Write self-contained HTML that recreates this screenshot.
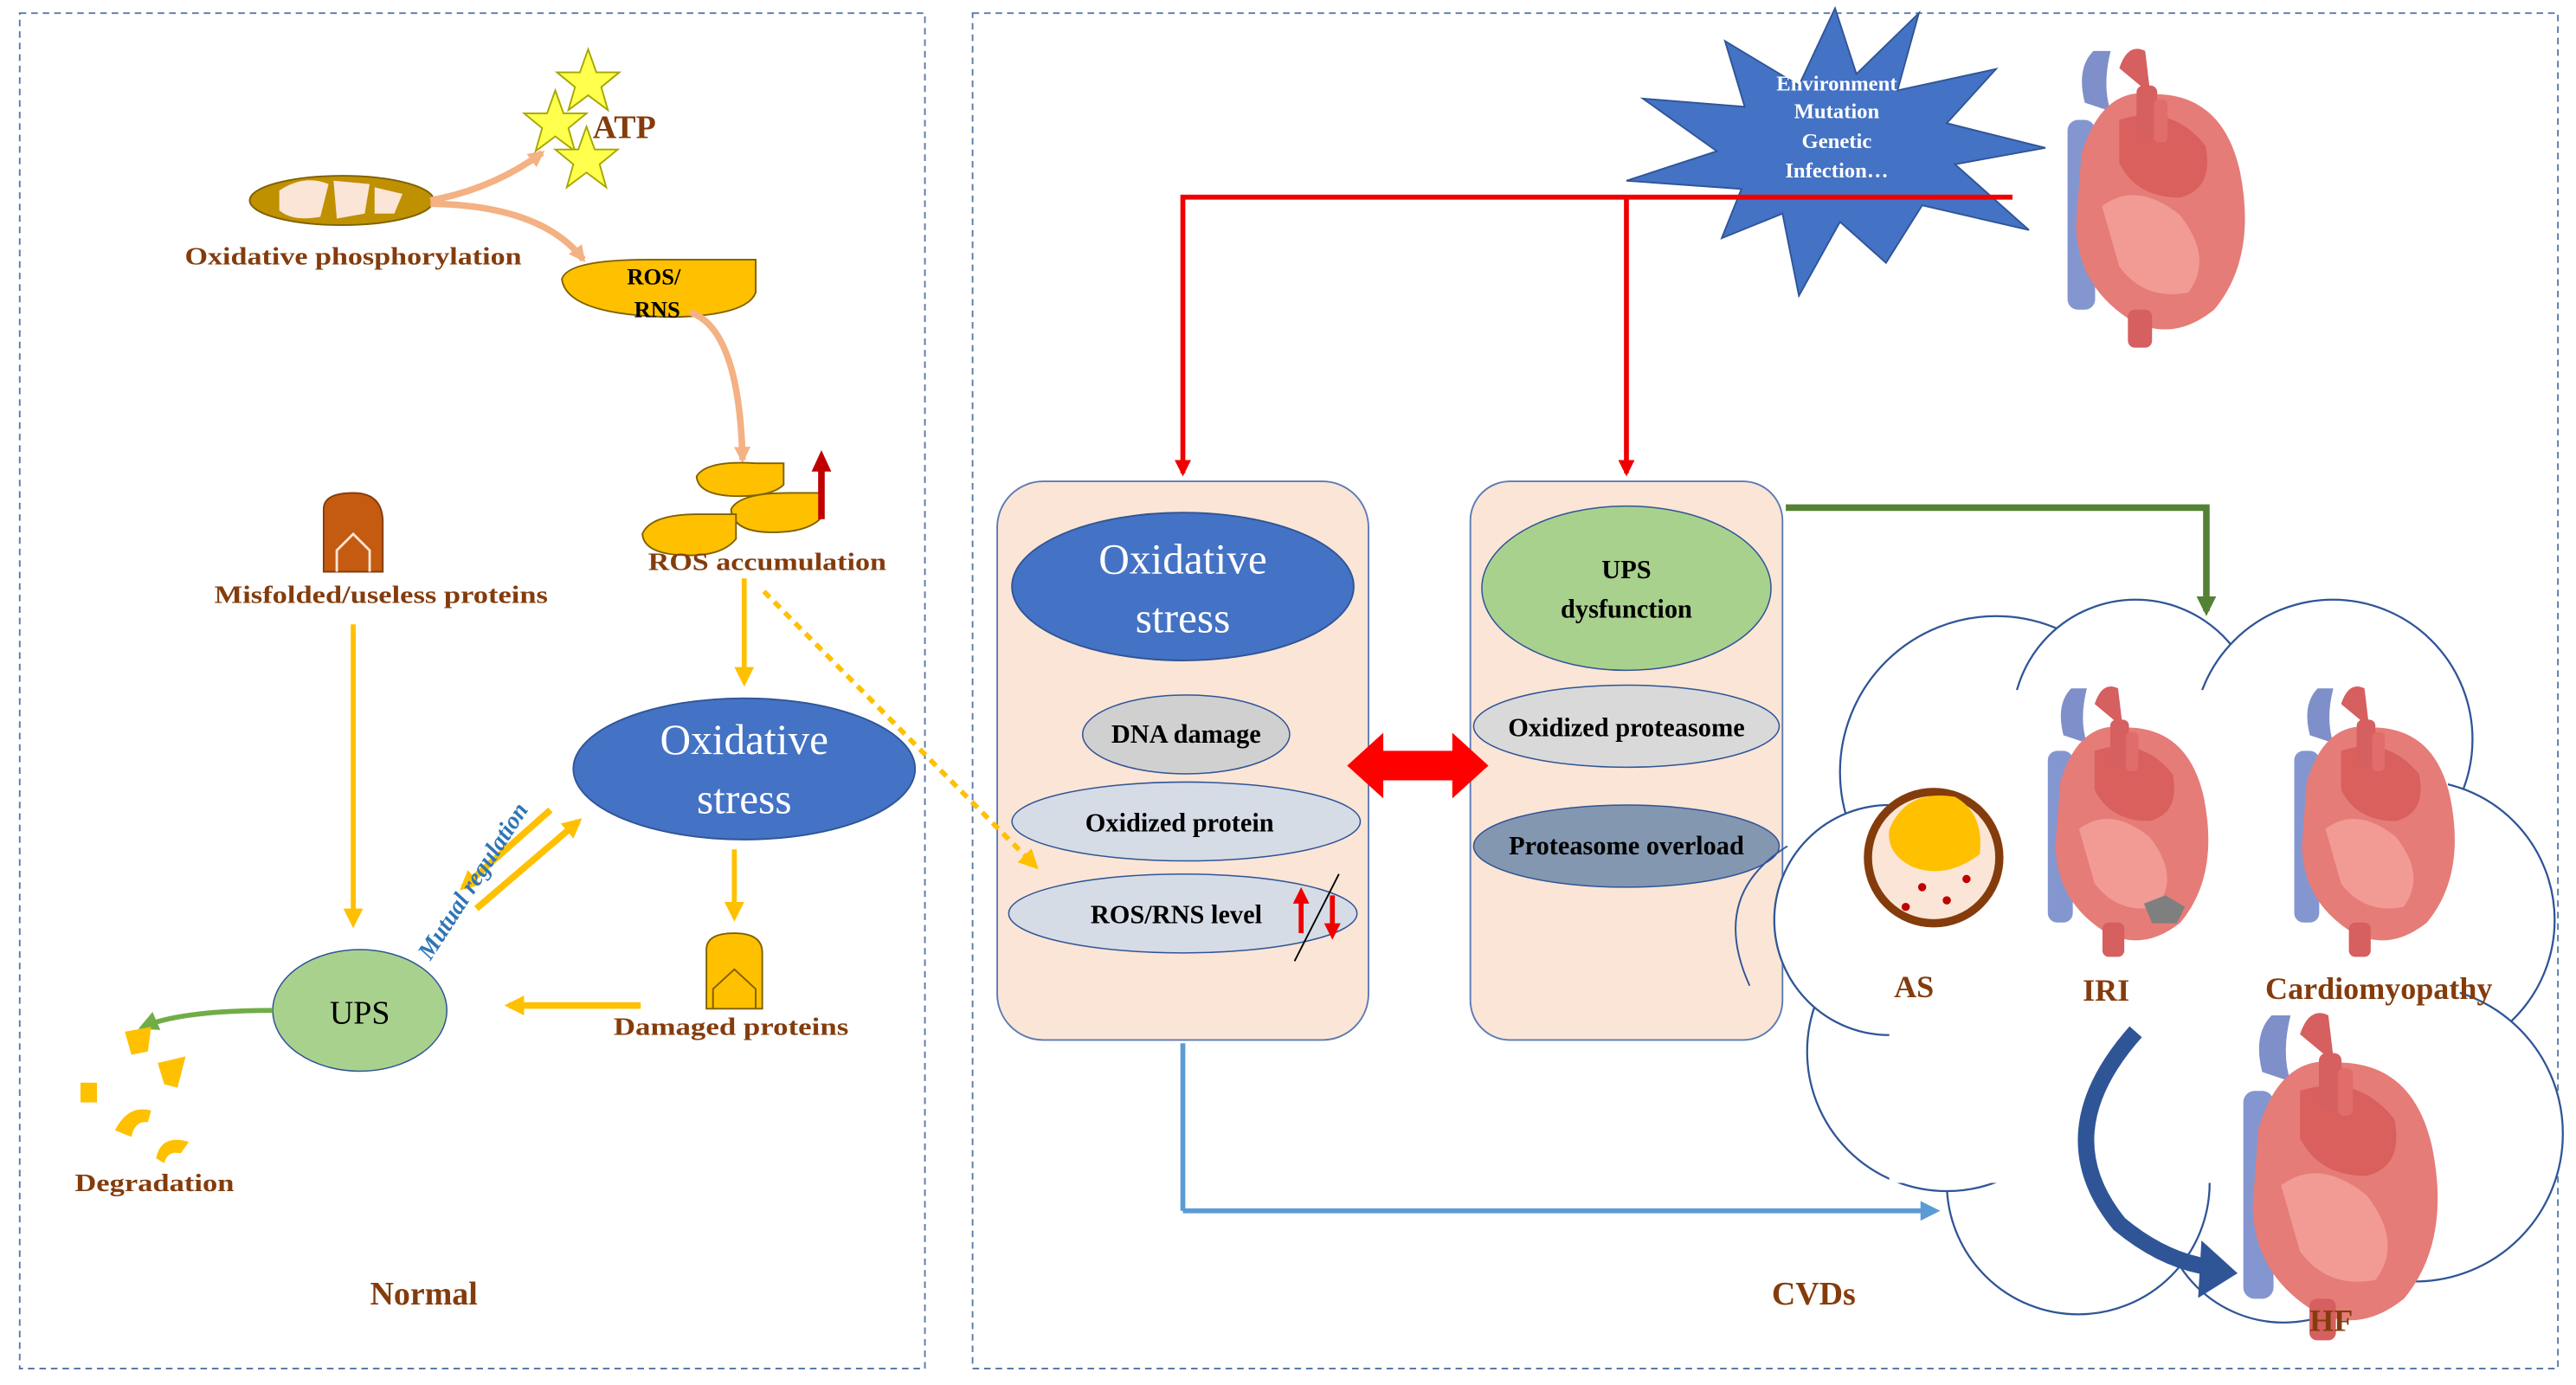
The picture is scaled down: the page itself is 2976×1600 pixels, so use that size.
<!DOCTYPE html>
<html><head><meta charset="utf-8"><style>
html,body{margin:0;padding:0;background:#fff;}
svg{display:block;}
text{font-family:"Liberation Serif",serif;font-weight:bold;}
</style></head><body>
<svg width="2976" height="1600" viewBox="0 0 1568 843" xmlns="http://www.w3.org/2000/svg">
<defs>
<marker id="ap" markerWidth="12" markerHeight="12" refX="8" refY="5" orient="auto" markerUnits="userSpaceOnUse"><path d="M0,0 L10,5 L0,10 z" fill="#f4b183"/></marker>
<marker id="ar" markerWidth="12" markerHeight="12" refX="8" refY="5" orient="auto" markerUnits="userSpaceOnUse"><path d="M0,0 L10,5 L0,10 z" fill="#e00"/></marker>
<marker id="ag" markerWidth="14" markerHeight="14" refX="9" refY="6" orient="auto" markerUnits="userSpaceOnUse"><path d="M0,0 L12,6 L0,12 z" fill="#548235"/></marker>
<marker id="ab" markerWidth="14" markerHeight="14" refX="9" refY="6" orient="auto" markerUnits="userSpaceOnUse"><path d="M0,0 L12,6 L0,12 z" fill="#5b9bd5"/></marker>
<marker id="agr" markerWidth="14" markerHeight="14" refX="9" refY="6" orient="auto" markerUnits="userSpaceOnUse"><path d="M0,0 L12,6 L0,12 z" fill="#70ad47"/></marker>
<marker id="ay2" markerWidth="14" markerHeight="14" refX="9" refY="6" orient="auto" markerUnits="userSpaceOnUse"><path d="M0,0 L12,6 L0,12 z" fill="#ffc000"/></marker>
<g id="heart">
<path d="M-20,-50 Q-25,-70 -15,-80 L-5,-80 Q-10,-60 -5,-45 Z" fill="#7f8fc9"/>
<rect x="-30" y="-40" width="16" height="110" rx="6" fill="#8496d0"/>
<path d="M0,-70 Q5,-85 15,-80 L18,-55 Z" fill="#d65f5f"/>
<path d="M-22,-20 Q-10,-60 20,-55 Q60,-55 70,-10 Q80,40 55,70 Q30,90 5,75 Q-25,55 -25,20 Z" fill="#e57c78"/>
<path d="M0,-40 Q30,-50 50,-25 Q55,0 35,5 Q10,5 0,-15 Z" fill="#d9605d"/>
<path d="M-10,10 Q10,-5 35,15 Q55,40 40,60 Q15,65 0,45 Z" fill="#f19b94"/>
<rect x="10" y="-60" width="12" height="30" rx="4" fill="#d65f5f"/>
<rect x="20" y="-52" width="8" height="25" rx="3" fill="#e06d6a"/>
<rect x="5" y="70" width="14" height="22" rx="4" fill="#d65f5f"/>
</g>
</defs>

<rect x="12" y="8" width="551" height="825" fill="none" stroke="#5a7aa8" stroke-width="1" stroke-dasharray="4,3"/>
<rect x="592" y="8" width="965" height="825" fill="none" stroke="#5a7aa8" stroke-width="1" stroke-dasharray="4,3"/>

<!-- LEFT -->
<ellipse cx="208" cy="122" rx="56" ry="15" fill="#bf9000" stroke="#7f6000"/>
<path d="M170,116 Q185,106 200,112 L195,132 Q178,135 170,128 Z" fill="#fbe5d6"/>
<path d="M203,110 L225,112 L222,130 L205,133 Z" fill="#fbe5d6"/>
<path d="M228,114 L245,118 L240,130 L228,130 Z" fill="#fbe5d6"/>
<path d="M262,122 Q300,115 330,93" stroke="#f4b183" stroke-width="4" fill="none" marker-end="url(#ap)"/>
<path d="M262,124 Q330,125 355,158" stroke="#f4b183" stroke-width="4" fill="none" marker-end="url(#ap)"/>
<g fill="#ffff4d" stroke="#a6a600" stroke-width="1">
<polygon points="358,30 363,44 377,44 366,53 370,67 358,58 346,67 350,53 339,44 353,44"/>
<polygon points="338,55 343,69 357,69 346,78 350,92 338,83 326,92 330,78 319,69 333,69"/>
<polygon points="357,77 362,91 376,91 365,100 369,114 357,105 345,114 349,100 338,91 352,91"/>
</g>
<text x="380" y="84" font-size="20" fill="#843c0c" text-anchor="middle">ATP</text>
<text x="215" y="161" font-size="15" fill="#843c0c" text-anchor="middle" textLength="205" lengthAdjust="spacingAndGlyphs">Oxidative phosphorylation</text>
<path d="M342,170 Q345,158 395,158 L460,158 L460,178 Q455,192 410,193 Q345,192 342,170 Z" fill="#ffc000" stroke="#7f6000"/>
<text x="398" y="173" font-size="14" fill="#000" text-anchor="middle">ROS/</text>
<text x="400" y="193" font-size="14" fill="#000" text-anchor="middle">RNS</text>
<path d="M420,190 Q450,200 452,280" stroke="#f4b183" stroke-width="4" fill="none" marker-end="url(#ap)"/>
<g fill="#ffc000" stroke="#7f6000">
<path d="M424,290 Q430,280 460,282 L477,282 L477,295 Q470,302 450,302 Q425,302 424,290 Z"/>
<path d="M445,310 Q450,300 480,300 L500,300 L500,315 Q492,324 470,324 Q446,324 445,310 Z"/>
<path d="M391,325 Q396,313 425,313 L448,313 L448,328 Q440,338 420,338 Q392,338 391,325 Z"/>
</g>
<path d="M500,316 L500,285" stroke="#c00000" stroke-width="4"/>
<polygon points="494,287 500,274 506,287" fill="#c00000"/>
<text x="467" y="347" font-size="15" fill="#843c0c" text-anchor="middle" textLength="145" lengthAdjust="spacingAndGlyphs">ROS accumulation</text>
<line x1="453" y1="352" x2="453" y2="415" stroke="#ffc000" stroke-width="3" marker-end="url(#ay2)"/>
<ellipse cx="453" cy="468" rx="104" ry="43" fill="#4472c4" stroke="#2f5597"/>
<text x="453" y="459" font-size="26" fill="#fff" text-anchor="middle" style="font-weight:normal">Oxidative</text>
<text x="453" y="495" font-size="26" fill="#fff" text-anchor="middle" style="font-weight:normal">stress</text>
<path d="M197,330 L197,310 Q197,300 215,300 Q233,300 233,318 L233,348 L197,348 Z" fill="#c55a11" stroke="#843c0c"/>
<path d="M205,348 L205,335 L215,325 L225,335 L225,348" fill="none" stroke="#fbe5d6" stroke-width="1.5"/>
<text x="232" y="367" font-size="15" fill="#843c0c" text-anchor="middle" textLength="203" lengthAdjust="spacingAndGlyphs">Misfolded/useless proteins</text>
<line x1="215" y1="380" x2="215" y2="562" stroke="#ffc000" stroke-width="3" marker-end="url(#ay2)"/>
<ellipse cx="219" cy="615" rx="53" ry="37" fill="#a9d18e" stroke="#2f5597" stroke-width="0.8"/>
<text x="219" y="623" font-size="20" fill="#000" text-anchor="middle" style="font-weight:normal">UPS</text>
<line x1="447" y1="517" x2="447" y2="558" stroke="#ffc000" stroke-width="3" marker-end="url(#ay2)"/>
<path d="M430,590 L430,578 Q430,568 447,568 Q464,568 464,580 L464,614 L430,614 Z" fill="#ffc000" stroke="#7f6000"/>
<path d="M434,614 L434,602 L447,590 L460,602 L460,614" fill="none" stroke="#7f6000" stroke-width="1"/>
<text x="445" y="630" font-size="15" fill="#843c0c" text-anchor="middle" textLength="143" lengthAdjust="spacingAndGlyphs">Damaged proteins</text>
<line x1="390" y1="612" x2="310" y2="612" stroke="#ffc000" stroke-width="4" marker-end="url(#ay2)"/>
<line x1="335" y1="493" x2="282" y2="540" stroke="#ffc000" stroke-width="4" marker-end="url(#ay2)"/>
<line x1="290" y1="553" x2="352" y2="500" stroke="#ffc000" stroke-width="4" marker-end="url(#ay2)"/>
<text x="0" y="0" font-size="15" fill="#2e75b6" font-style="italic" transform="translate(262,585) rotate(-57)" textLength="110" lengthAdjust="spacingAndGlyphs">Mutual regulation</text>
<path d="M166,615 Q110,615 87,625" stroke="#70ad47" stroke-width="3" fill="none" marker-end="url(#agr)"/>
<g fill="#ffc000">
<polygon points="76,628 92,625 90,640 80,642"/>
<polygon points="96,647 113,643 108,662 100,660"/>
<rect x="49" y="659" width="10" height="12"/>
<path d="M70,688 Q78,672 92,676 L90,683 Q82,682 80,692 Z"/>
<path d="M95,705 Q98,690 115,695 L110,702 Q102,700 100,708 Z"/>
</g>
<text x="94" y="725" font-size="15" fill="#843c0c" text-anchor="middle" textLength="97" lengthAdjust="spacingAndGlyphs">Degradation</text>
<text x="258" y="794" font-size="20" fill="#843c0c" text-anchor="middle">Normal</text>

<!-- RIGHT -->
<polygon points="1117,5 1130,45 1168,8 1155,55 1215,42 1185,75 1245,90 1190,100 1235,140 1170,125 1148,160 1120,135 1095,180 1085,130 1048,145 1060,115 990,110 1045,92 1000,60 1062,65 1050,25 1095,52" fill="#4472c4" stroke="#2f5597"/>
<g font-size="13" fill="#fff" text-anchor="middle" style="font-weight:normal">
<text x="1118" y="55">Environment</text>
<text x="1118" y="72">Mutation</text>
<text x="1118" y="90">Genetic</text>
<text x="1118" y="108">Infection…</text>
</g>
<use href="#heart" transform="translate(1290,115) scale(1.05)"/>
<polyline points="1225,120 720,120 720,288" fill="none" stroke="#e00" stroke-width="3" marker-end="url(#ar)"/>
<line x1="990" y1="120" x2="990" y2="288" stroke="#e00" stroke-width="3" marker-end="url(#ar)"/>

<rect x="607" y="293" width="226" height="340" rx="28" fill="#fbe5d6" stroke="#5b7bb5"/>
<rect x="895" y="293" width="190" height="340" rx="24" fill="#fbe5d6" stroke="#5b7bb5"/>
<line x1="465" y1="360" x2="630" y2="527" stroke="#ffc000" stroke-width="3" stroke-dasharray="5,4" marker-end="url(#ay2)"/>
<ellipse cx="720" cy="357" rx="104" ry="45" fill="#4472c4" stroke="#2f5597"/>
<text x="720" y="349" font-size="26" fill="#fff" text-anchor="middle" style="font-weight:normal">Oxidative</text>
<text x="720" y="385" font-size="26" fill="#fff" text-anchor="middle" style="font-weight:normal">stress</text>
<ellipse cx="722" cy="447" rx="63" ry="24" fill="#d0d0d0" stroke="#2f5597" stroke-width="0.8"/>
<text x="722" y="452" font-size="16" text-anchor="middle">DNA damage</text>
<ellipse cx="722" cy="500" rx="106" ry="24" fill="#d6dce5" stroke="#2f5597" stroke-width="0.8"/>
<text x="718" y="506" font-size="16" text-anchor="middle">Oxidized  protein</text>
<ellipse cx="720" cy="556" rx="106" ry="24" fill="#d6dce5" stroke="#2f5597" stroke-width="0.8"/>
<text x="716" y="562" font-size="16" text-anchor="middle">ROS/RNS level</text>
<line x1="792" y1="568" x2="792" y2="548" stroke="#e00" stroke-width="3"/><polygon points="787,550 792,540 797,550" fill="#e00"/>
<line x1="811" y1="545" x2="811" y2="564" stroke="#e00" stroke-width="3"/><polygon points="806,562 811,572 816,562" fill="#e00"/>
<line x1="788" y1="585" x2="815" y2="532" stroke="#000" stroke-width="1"/>
<polygon points="820,466 842,446 842,457 884,457 884,446 906,466 884,486 884,475 842,475 842,486" fill="#ff0000"/>
<ellipse cx="990" cy="358" rx="88" ry="50" fill="#a9d18e" stroke="#2f5597" stroke-width="0.8"/>
<text x="990" y="352" font-size="16" text-anchor="middle">UPS</text>
<text x="990" y="376" font-size="16" text-anchor="middle">dysfunction</text>
<ellipse cx="990" cy="442" rx="93" ry="25" fill="#d9d9d9" stroke="#2f5597" stroke-width="0.8"/>
<text x="990" y="448" font-size="16" text-anchor="middle">Oxidized  proteasome</text>
<ellipse cx="990" cy="515" rx="93" ry="25" fill="#8497b0" stroke="#2f5597" stroke-width="0.8"/>
<text x="990" y="520" font-size="16" text-anchor="middle">Proteasome overload</text>
<polyline points="1087,309 1343,309 1343,372" fill="none" stroke="#548235" stroke-width="4" marker-end="url(#ag)"/>

<!-- cloud -->
<g fill="#fff" stroke="#2f5597" stroke-width="1.2">
<circle cx="1215" cy="470" r="95"/>
<circle cx="1300" cy="440" r="75"/>
<circle cx="1420" cy="450" r="85"/>
<circle cx="1470" cy="560" r="85"/>
<circle cx="1470" cy="690" r="90"/>
<circle cx="1390" cy="730" r="75"/>
<circle cx="1265" cy="720" r="80"/>
<circle cx="1185" cy="640" r="85"/>
<circle cx="1150" cy="560" r="70"/>
</g>
<rect x="1150" y="420" width="340" height="300" fill="#fff"/>
<ellipse cx="1320" cy="580" rx="180" ry="140" fill="#fff"/>
<path d="M1088,515 Q1040,545 1065,600" fill="none" stroke="#2f5597" stroke-width="1"/>
<line x1="720" y1="635" x2="720" y2="737" stroke="#5b9bd5" stroke-width="3"/>
<line x1="720" y1="737" x2="1178" y2="737" stroke="#5b9bd5" stroke-width="3" marker-end="url(#ab)"/>

<circle cx="1177" cy="522" r="40" fill="#fbe5d6" stroke="#843c0c" stroke-width="5"/>
<path d="M1150,505 Q1160,480 1190,485 Q1208,495 1205,520 Q1185,535 1165,528 Q1148,520 1150,505 Z" fill="#ffc000"/>
<g fill="#c00000"><circle cx="1170" cy="540" r="2.5"/><circle cx="1185" cy="548" r="2.5"/><circle cx="1197" cy="535" r="2.5"/><circle cx="1160" cy="552" r="2.5"/></g>
<use href="#heart" transform="translate(1275,495) scale(0.95)"/>
<polygon points="1305,550 1318,545 1330,552 1325,562 1310,562" fill="#7f7f7f"/>
<use href="#heart" transform="translate(1425,495) scale(0.95)"/>
<use href="#heart" transform="translate(1400,710) scale(1.15)"/>
<path d="M1300,628 Q1245,690 1290,745 Q1320,770 1352,772" fill="none" stroke="#2f5597" stroke-width="10"/>
<polygon points="1340,755 1362,775 1338,790" fill="#2f5597"/>
<text x="1165" y="607" font-size="19" fill="#843c0c" text-anchor="middle">AS</text>
<text x="1282" y="609" font-size="19" fill="#843c0c" text-anchor="middle">IRI</text>
<text x="1448" y="608" font-size="19" fill="#843c0c" text-anchor="middle">Cardiomyopathy</text>
<text x="1419" y="810" font-size="19" fill="#843c0c" text-anchor="middle">HF</text>
<text x="1104" y="794" font-size="20" fill="#843c0c" text-anchor="middle">CVDs</text>
</svg>
</body></html>
